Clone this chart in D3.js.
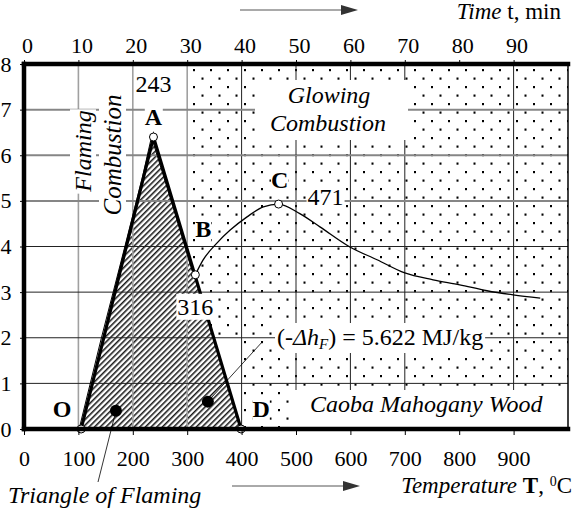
<!DOCTYPE html>
<html>
<head>
<meta charset="utf-8">
<script src="https://cdn.jsdelivr.net/npm/d3@7"></script>
<style>
  body { margin: 0; background: #fff; }
  svg { display: block; }
</style>
</head>
<body>
<div id="chart-container"></div>
<script>
const width = 572;
const height = 515;
const serif = "'Liberation Serif', 'Times New Roman', Tinos, 'DejaVu Serif', serif";

// axis ticks
const tempTicks = [0, 100, 200, 300, 400, 500, 600, 700, 800, 900];
const timeTicks = [0, 10, 20, 30, 40, 50, 60, 70, 80, 90];
const valueTicks = [0, 1, 2, 3, 4, 5, 6, 7, 8];
const gridTemps = [100, 200, 300, 400, 500, 600, 700, 900]; // no line at 800 in the original
const gridValues = [1, 2, 3, 4, 5, 6, 7];

// triangle of flaming O - A - D (temperature, value)
const triangleT = [105, 238, 399];
const triangleV = [0, 6.4, 0];

// named points
const pointNames = ["O", "A", "B", "C", "D"];
const pointT = [105, 238, 315, 468, 399];
const pointV = [0, 6.4, 3.38, 4.93, 0];

// measured curve: flaming part (O -> A -> B) and glowing part (B -> end)
const flameT = [105, 146, 187, 221, 238, 278, 315];
const flameV = [0, 2.0, 3.9, 5.5, 6.4, 4.85, 3.38];
const glowT = [315, 329, 355, 379, 410, 440, 468, 507, 544, 599, 649, 700, 752, 801, 851, 899, 949];
const glowV = [3.38, 3.7, 4.08, 4.36, 4.65, 4.87, 4.93, 4.72, 4.43, 3.99, 3.71, 3.42, 3.27, 3.16, 3.03, 2.94, 2.87];

// the two black dots of the annotations
const dotT = [169, 338];
const dotV = [0.4, 0.6];

const margin = { top: 64, right: 4, bottom: 86, left: 24 };

const x = d3.scaleLinear([0, 1000], [margin.left, width - margin.right]);
const t = d3.scaleLinear([0, 100], [margin.left, width - margin.right]);
const y = d3.scaleLinear([0, 8], [height - margin.bottom, margin.top]);

const svg = d3.select("#chart-container")
    .append("svg")
    .attr("viewBox", [0, 0, width, height])
    .attr("width", width)
    .attr("height", height)
    .attr("font-family", serif);

const defs = svg.append("defs");

const dots = defs.append("pattern")
    .attr("id", "dots")
    .attr("patternUnits", "userSpaceOnUse")
    .attr("x", 6).attr("y", 1)
    .attr("width", 17).attr("height", 17);
dots.append("rect").attr("x", 0).attr("y", 0).attr("width", 2).attr("height", 2.2).attr("fill", "#000");
dots.append("rect").attr("x", 8.5).attr("y", 8.5).attr("width", 2).attr("height", 2.2).attr("fill", "#000");

const hatch = defs.append("pattern")
    .attr("id", "hatch")
    .attr("patternUnits", "userSpaceOnUse")
    .attr("width", 4).attr("height", 10)
    .attr("patternTransform", "rotate(45)");
hatch.append("rect").attr("width", 4).attr("height", 10).attr("fill", "#fff");
hatch.append("line")
    .attr("x1", 0.8).attr("x2", 0.8).attr("y1", 0).attr("y2", 10)
    .attr("stroke", "#000").attr("stroke-width", 1.4);

// dotted (glowing) region
const glowRegion = [[300, 8], [1000, 8], [1000, 0], [400, 0], [400, 2], [300, 2]];
svg.append("path")
    .attr("d", d3.line(d => x(d[0]), d => y(d[1]))(glowRegion) + "Z")
    .attr("fill", "url(#dots)");

// hatched triangle
const tri = triangleT.map((d, i) => [d, triangleV[i]]);
svg.append("path")
    .attr("d", d3.line(d => x(d[0]), d => y(d[1]))(tri) + "Z")
    .attr("fill", "url(#hatch)");

// grid
svg.append("g")
    .selectAll("line")
    .data(gridTemps)
    .join("line")
    .attr("x1", d => x(d)).attr("x2", d => x(d))
    .attr("y1", y(0)).attr("y2", y(8))
    .attr("stroke", d => d <= 300 ? "#a0a0a0" : "#222")
    .attr("stroke-width", d => d <= 300 ? 1.6 : 1);

svg.append("g")
    .selectAll("line")
    .data(gridValues)
    .join("line")
    .attr("x1", x(0)).attr("x2", x(1000))
    .attr("y1", d => y(d)).attr("y2", d => y(d))
    .attr("stroke", d => d >= 5 ? "#868686" : "#222")
    .attr("stroke-width", d => d >= 5 ? 2 : 1);

// triangle edges
svg.append("path")
    .attr("d", d3.line(d => x(d[0]), d => y(d[1]))(tri))
    .attr("fill", "none")
    .attr("stroke", "#000")
    .attr("stroke-width", 3.2)
    .attr("stroke-linejoin", "miter");

// measured curve
const flame = flameT.map((d, i) => [d, flameV[i]]);
const glow = glowT.map((d, i) => [d, glowV[i]]);
svg.append("path")
    .attr("d", d3.line(d => x(d[0]) - 2, d => y(d[1]))(flame))
    .attr("fill", "none").attr("stroke", "#000").attr("stroke-width", 1);
svg.append("path")
    .attr("d", d3.line(d => x(d[0]), d => y(d[1])).curve(d3.curveMonotoneX)(glow))
    .attr("fill", "none").attr("stroke", "#000").attr("stroke-width", 1.3);

// text helper with white background box
function label(g, parts, opts) {
    const txt = g.append("text")
        .attr("x", opts.x).attr("y", opts.y)
        .attr("text-anchor", opts.anchor || "start")
        .attr("font-family", serif)
        .attr("font-size", opts.size || 24);
    parts.forEach(p => {
        const s = txt.append("tspan").text(p.text);
        if (p.italic) s.attr("font-style", "italic");
        if (p.bold) s.attr("font-weight", "bold");
        if (p.shift) s.attr("baseline-shift", p.shift).attr("font-size", p.fs);
    });
    if (opts.bg) {
        const b = txt.node().getBBox();
        const px = opts.padX != null ? opts.padX : 1;
        const py = opts.padY != null ? opts.padY : 0;
        g.insert("rect", () => txt.node())
            .attr("x", b.x - px).attr("y", b.y - py)
            .attr("width", b.width + 2 * px)
            .attr("height", b.height + 2 * py)
            .attr("fill", "#fff");
    }
    return txt;
}

const notes = svg.append("g");

// rotated "Flaming Combustion"
const fl = notes.append("g").attr("transform", "translate(91,151) rotate(-90)");
label(fl, [{ text: "Flaming", italic: true }], { x: 0, y: 0, anchor: "middle", size: 24, bg: true });
const fc = notes.append("g").attr("transform", "translate(121,155) rotate(-90)");
label(fc, [{ text: "Combustion", italic: true }], { x: 0, y: 0, anchor: "middle", size: 25, bg: true });

// "Glowing Combustion" box
const gc = notes.append("g");
gc.append("rect")
    .attr("x", 255).attr("y", 80).attr("width", 153).attr("height", 60)
    .attr("fill", "#fff");
label(gc, [{ text: "Glowing", italic: true }], { x: 329, y: 103, anchor: "middle" });
label(gc, [{ text: "Combustion", italic: true }], { x: 328, y: 131, anchor: "middle" });

// Caoba box
const cb = notes.append("g");
cb.append("rect")
    .attr("x", 291).attr("y", 390).attr("width", x(1000) - 291).attr("height", y(0) - 390)
    .attr("fill", "#fff");
label(cb, [{ text: "Caoba Mahogany Wood", italic: true }], { x: 310, y: 412 });

// leader lines and black dots
const leaderStarts = [[98, 482], [263, 341]];
notes.selectAll(".leader")
    .data(dotT)
    .join("line")
    .attr("x1", (d, i) => leaderStarts[i][0]).attr("y1", (d, i) => leaderStarts[i][1])
    .attr("x2", d => x(d)).attr("y2", (d, i) => y(dotV[i]))
    .attr("stroke", "#000").attr("stroke-width", 0.8);

label(notes, [
    { text: "(-" },
    { text: "Δh", italic: true },
    { text: "F", italic: true, shift: "-4", fs: 15 },
    { text: ") = 5.622 MJ/kg" }
], { x: 277, y: 345, bg: true, padX: 2, padY: 1 });

svg.append("g")
    .selectAll("circle")
    .data(dotT)
    .join("circle")
    .attr("cx", d => x(d))
    .attr("cy", (d, i) => y(dotV[i]))
    .attr("r", 6)
    .attr("fill", "#000");

// point labels and values
const nameOffset = { O: [-19, -12], A: [0, -12], B: [8, -38], C: [1, -16], D: [20, -12] };
const valueOffset = { A: [0, -45, "middle"], B: [0, 40, "middle"], C: [29, 1, "start"] };
const valueText = { A: "243", B: "316", C: "471" };
pointNames.forEach((n, i) => {
    const px = x(pointT[i]), py = y(pointV[i]);
    label(notes, [{ text: n, bold: true }],
        { x: px + nameOffset[n][0], y: py + nameOffset[n][1], anchor: "middle", bg: true, padX: 0 });
    if (valueText[n]) {
        const o = valueOffset[n];
        label(notes, [{ text: valueText[n] }],
            { x: px + o[0], y: py + o[1], anchor: o[2], bg: true, padX: 1 });
    }
});

// open circles on key points
svg.append("g")
    .selectAll("circle")
    .data(pointT)
    .join("circle")
    .attr("cx", d => x(d))
    .attr("cy", (d, i) => y(pointV[i]))
    .attr("r", 4)
    .attr("fill", "#fff")
    .attr("stroke", "#000")
    .attr("stroke-width", 1);

// axes
function styleAxis(g) {
    g.attr("font-family", serif).attr("font-size", 22);
    g.select(".domain").remove();
    g.selectAll(".tick line").attr("stroke", "#000");
    g.selectAll(".tick text").attr("fill", "#000");
}

svg.append("g")
    .attr("transform", `translate(0,${y(0)})`)
    .call(d3.axisBottom(x).tickValues(tempTicks).tickSize(6).tickPadding(15))
    .call(styleAxis);

svg.append("g")
    .attr("transform", `translate(0,${y(8)})`)
    .call(d3.axisTop(t).tickValues(timeTicks).tickSize(4).tickPadding(7))
    .call(styleAxis)
    .call(g => g.selectAll(".tick text").attr("dx", 3));

svg.append("g")
    .attr("transform", `translate(${x(0)},0)`)
    .call(d3.axisLeft(y).tickValues(valueTicks).tickSize(4).tickPadding(8.5))
    .call(styleAxis);

// frame: thick top, left, bottom; thin right
const frame = svg.append("g").attr("stroke", "#000").attr("stroke-linecap", "square");
frame.append("line").attr("x1", x(0)).attr("x2", x(1000)).attr("y1", y(8)).attr("y2", y(8)).attr("stroke-width", 4.5);
frame.append("line").attr("x1", x(0)).attr("x2", x(1000)).attr("y1", y(0)).attr("y2", y(0)).attr("stroke-width", 4.5);
frame.append("line").attr("x1", x(0)).attr("x2", x(0)).attr("y1", y(0)).attr("y2", y(8)).attr("stroke-width", 4.5);
frame.append("line").attr("x1", x(1000)).attr("x2", x(1000)).attr("y1", y(0)).attr("y2", y(8))
    .attr("stroke-width", 1.5).attr("stroke-linecap", "butt");

// axis titles with arrows
function arrow(x0, x1, yy) {
    svg.append("line")
        .attr("x1", x0).attr("x2", x1 - 16).attr("y1", yy).attr("y2", yy)
        .attr("stroke", "#555").attr("stroke-width", 1);
    svg.append("path")
        .attr("d", `M${x1 - 17},${yy - 5}L${x1},${yy}L${x1 - 17},${yy + 5}Z`)
        .attr("fill", "#333");
}
arrow(240, 358, 10);
arrow(232, 360, 486);

label(svg, [{ text: "Time", italic: true }, { text: " t, min" }], { x: 561, y: 19, anchor: "end", size: 23 });
label(svg, [
    { text: "Temperature ", italic: true },
    { text: "T", bold: true },
    { text: ", " },
    { text: "0", shift: "7", fs: 14 },
    { text: "C" }
], { x: 572, y: 493, anchor: "end", size: 23 });
label(svg, [{ text: "Triangle of Flaming", italic: true }], { x: 8, y: 503 });
</script>
</body>
</html>
